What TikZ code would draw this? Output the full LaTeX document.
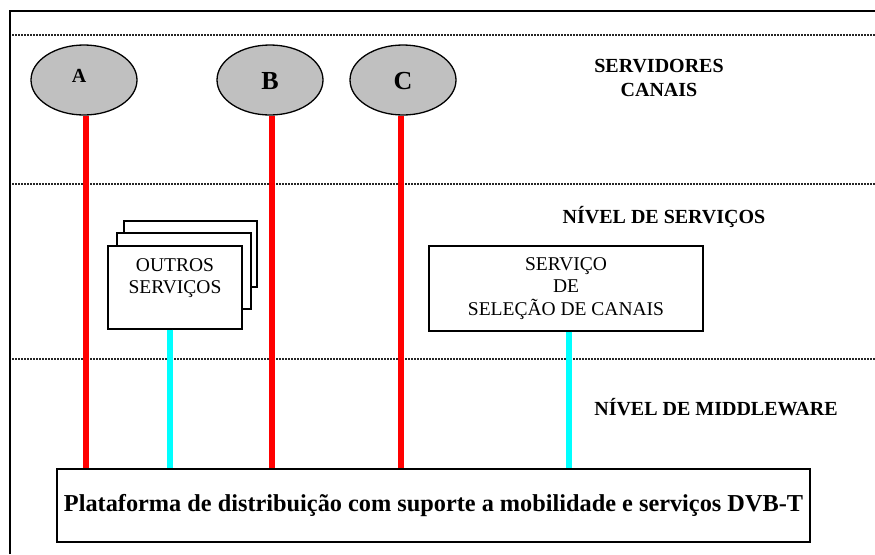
\documentclass[tikz,border=0pt]{standalone}
\usepackage{fontspec}
\setmainfont{Liberation Serif}
\usetikzlibrary{shapes.geometric}
\definecolor{srvgray}{HTML}{C0C0C0}
\definecolor{linkred}{HTML}{FF0000}
\definecolor{linkcyan}{HTML}{00FFFF}
\tikzset{
  srv/.style={ellipse, draw=black, line width=1.3pt, fill=srvgray, minimum width=106pt, minimum height=70pt, inner sep=0pt},
  box/.style={draw=black, line width=1.4pt, fill=white, inner sep=0pt},
  sep/.style={line width=1.1pt, dash pattern=on 1.5pt off 1.5pt, black!85},
  redlink/.style={draw=linkred, line width=6.5pt},
  cyanlink/.style={draw=linkcyan, line width=6.5pt},
  lbl/.style={font=\bfseries\fontsize{20}{24}\selectfont, align=center, inner sep=0pt},
  txt/.style={font=\fontsize{19.5}{22.5}\selectfont, align=center, inner sep=0pt}
}
\begin{document}
\begin{tikzpicture}[x=1pt,y=-1pt]
\useasboundingbox (0,0) rectangle (875,554);
% frame
\draw[line width=2pt] (10,554) -- (10,11) -- (875,11);
% separators
\draw[sep] (12,35) -- (875,35);
\draw[sep] (12,184) -- (875,184);
\draw[sep] (12,359) -- (875,359);
% servers
\node[srv] (A) at (84,80) {};
\node[font=\bfseries\fontsize{20}{20}\selectfont, inner sep=0pt] (Al) at (79,76) {A};
\node[srv] (B) at (270,80) {};
\node[font=\bfseries\fontsize{26}{26}\selectfont, inner sep=0pt] (Bl) at (270,81) {B};
\node[srv] (C) at (403,80) {};
\node[font=\bfseries\fontsize{26}{26}\selectfont, inner sep=0pt] (Cl) at (403,81) {C};
% layer labels
\node[lbl] (servl) at (659,78) {SERVIDORES\\CANAIS};
\node[lbl] (nivs) at (664,217) {NÍVEL DE SERVIÇOS};
\node[lbl] (nivm) at (716,407) {NÍVEL DE MIDDLEWARE};
% stacked boxes
\node[box, minimum width=133pt, minimum height=66pt] (o3) at (190.5,254) {};
\node[box, minimum width=134pt, minimum height=76pt] (o2) at (184,271) {};
\node[box, minimum width=134pt, minimum height=83pt] (o1) at (175,287.5) {};
\node[txt] (otxt) at (175,278) {OUTROS\\SERVIÇOS};
% selection service
\node[box, txt, draw, minimum width=274pt, minimum height=85pt] (sel) at (566,288.5) {SERVIÇO\\DE\\SELEÇÃO DE CANAIS};
% platform
\node[box, minimum width=753pt, minimum height=73pt, font=\bfseries\fontsize{24.3}{26}\selectfont] (plat) at (433.5,505.5) {Plataforma de distribuição com suporte a mobilidade e serviços DVB-T};
% links
\draw[redlink] (A.south -| 86,0) -- (plat.north -| 86,0);
\draw[redlink] (B.south -| 272,0) -- (plat.north -| 272,0);
\draw[redlink] (C.south -| 401,0) -- (plat.north -| 401,0);
\draw[cyanlink] (o1.south -| 170,0) -- (plat.north -| 170,0);
\draw[cyanlink] (sel.south -| 569,0) -- (plat.north -| 569,0);
\end{tikzpicture}
\end{document}
